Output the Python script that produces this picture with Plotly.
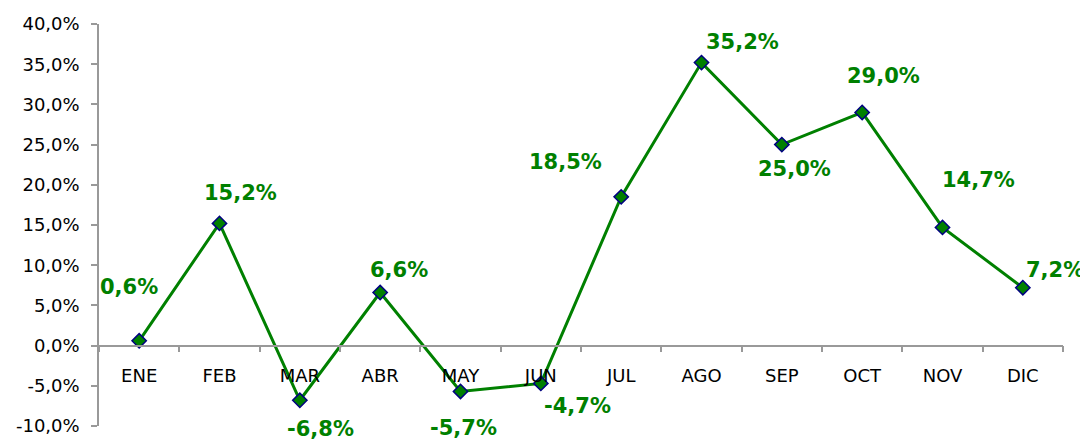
import plotly.graph_objects as go

months = ['ENE', 'FEB', 'MAR', 'ABR', 'MAY', 'JUN', 'JUL', 'AGO', 'SEP', 'OCT', 'NOV', 'DIC']
growth = [0.6, 15.2, -6.8, 6.6, -5.7, -4.7, 18.5, 35.2, 25.0, 29.0, 14.7, 7.2]
y_ticks = [-10, -5, 0, 5, 10, 15, 20, 25, 30, 35, 40]

# label offsets (px) as placed in the original chart
label_dx = [-10, 21, 21, 19, 3, 37, -56, 41, 13, 21, 36, 32]
label_dy = [54, 30, -29, 23, -37, -23, 35, 21, -24, 36, 47, 18]

green = '#008000'

def pct(v):
    return ('{:.1f}%').format(v).replace('.', ',')

fig = go.Figure()
fig.add_trace(go.Scatter(
    x=months, y=growth, mode='lines+markers',
    line=dict(color=green, width=3),
    marker=dict(symbol='diamond', size=11, color=green,
                line=dict(color='#000080', width=1.5)),
    cliponaxis=False, showlegend=False))

for m, v, dx, dy in zip(months, growth, label_dx, label_dy):
    fig.add_annotation(x=m, y=v, text=pct(v),
                       showarrow=False, xshift=dx, yshift=dy,
                       font=dict(family='DejaVu Sans', size=21, color=green, weight='bold'))

# page body has an 8px margin, so the figure is a bit smaller than the window
fig.update_layout(
    width=1080, height=432,
    margin=dict(l=91, r=25, t=16, b=14),
    plot_bgcolor='white', paper_bgcolor='white',
    font=dict(family='DejaVu Sans', size=18, color='black'),
    showlegend=False)

fig.update_xaxes(
    type='category', range=[-0.5, 11.5],
    anchor='free', position=0.2, automargin=False,
    showline=True, linecolor='#999999', linewidth=1.5,
    ticks='outside', tickson='boundaries', ticklen=6, tickcolor='#999999', tickwidth=1.5,
    ticklabelstandoff=14,
    showgrid=False, zeroline=False)

fig.update_yaxes(
    range=[-10, 40], tickvals=y_ticks, ticktext=[pct(t) for t in y_ticks],
    automargin=False,
    showline=True, linecolor='#999999', linewidth=1.5,
    ticks='outside', ticklen=6, tickcolor='#999999', tickwidth=1.5,
    ticklabelstandoff=8,
    showgrid=False, zeroline=False)

fig.write_html("out.html")
